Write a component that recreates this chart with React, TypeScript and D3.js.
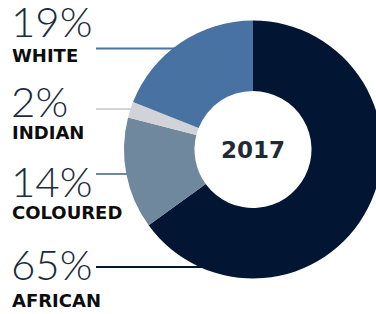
import React from 'react';
import * as d3 from 'd3';

// 2017 population split, clockwise from 12 o'clock
const groups = ['AFRICAN', 'COLOURED', 'INDIAN', 'WHITE'];
const shares = [65, 14, 2, 19];
const colors = ['#021633', '#6f889e', '#d2d3d9', '#4772a1'];
const centerLabel = '2017';

// legend order top to bottom on the left
const legendOrder = ['WHITE', 'INDIAN', 'COLOURED', 'AFRICAN'];
const legendLineY = [48.5, 109, 174, 267];
const pctBaseY = [37, 117, 197, 280];
const nameBaseY = [62, 139, 219, 307];

const W = 376;
const H = 314;
const cx = 253;
const cy = 149.5;
const outerR = 129;
const innerR = 58.5;

const App = () => {
    const data = groups.map((g, i) => ({ group: g, value: shares[i], color: colors[i] }));

    const pie = d3.pie<any>()
        .sort(null)
        .value(d => d.value);
    const arc = d3.arc<any>()
        .innerRadius(innerR)
        .outerRadius(outerR);
    const arcs = pie(data);

    return (
        <svg width={W} height={H} style={{ position: 'absolute', top: 0, left: 0, background: '#fff' }}>
            {legendOrder.map((g, i) => {
                const d = data.find(x => x.group === g)!;
                const y = legendLineY[i];
                const dy = y - cy;
                const edgeX = cx - Math.sqrt(outerR * outerR - dy * dy);
                return (
                    <g key={g}>
                        <line x1={96} x2={edgeX + 6} y1={y} y2={y} stroke={d.color} strokeWidth={2.2} />
                        <text x={11} y={pctBaseY[i]} fontFamily="Lato, 'Open Sans', sans-serif" fontWeight={300}
                            fontSize={42} fill="#1b2a3d">{d.value}%</text>
                        <text x={12} y={nameBaseY[i]} fontFamily="'DejaVu Sans', sans-serif" fontWeight="bold"
                            fontSize={18} fill="#0d0d0d">{g}</text>
                    </g>
                );
            })}
            <g transform={`translate(${cx},${cy})`}>
                {arcs.map(a => (
                    <path key={a.data.group} d={arc(a) as string} fill={a.data.color} />
                ))}
                <text textAnchor="middle" y={8.5} fontFamily="'DejaVu Sans', sans-serif" fontWeight="bold"
                    fontSize={23} fill="#1f2a37">{centerLabel}</text>
            </g>
        </svg>
    );
};

export default App;
